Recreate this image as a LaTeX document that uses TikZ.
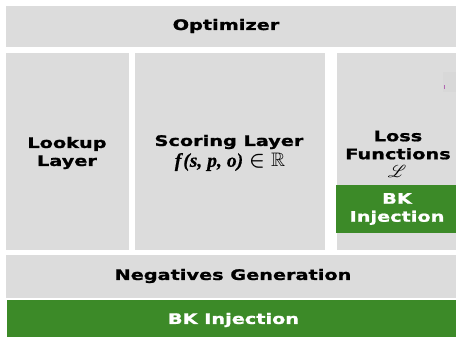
\documentclass[tikz,border=0pt]{standalone}
\usepackage{fontspec}
\usepackage{amsmath,amssymb,bm}
\usepackage{mathrsfs}
\setmainfont{DejaVu Sans}[BoldFont=DejaVu Sans Bold, BoldFeatures={FakeBold=1.2, FakeStretch=1.33}]
\newfontfamily\formulafont{Liberation Serif}[ItalicFont=Liberation Serif Bold Italic, ItalicFeatures={FakeBold=0.6}]
\definecolor{panel}{HTML}{DCDCDC}
\definecolor{bkgreen}{HTML}{3C8A28}
\tikzset{
  panelbox/.style={fill=panel, draw=none, inner sep=0pt, anchor=north west},
  greenbox/.style={fill=bkgreen, draw=none, inner sep=0pt, anchor=north west},
  label/.style={font=\rmfamily\bfseries\fontsize{14.5}{18}\selectfont, text=black, align=center, inner sep=0pt},
  bklabel/.style={label, text=white},
}
\begin{document}
\begin{tikzpicture}[x=1pt, y=-1pt]
  \useasboundingbox (0,0) rectangle (456,337);
  % top bar
  \node[panelbox, minimum width=450pt, minimum height=41pt] (opt) at (6,6) {};
  \node[label] (opttext) at (226,26) {Optimizer};
  % middle column of layers
  \node[panelbox, minimum width=123pt, minimum height=197pt] (lookup) at (6,53) {};
  \node[label] (lookuptext) at (67,153) {Lookup\\Layer};
  \node[panelbox, minimum width=190pt, minimum height=197pt] (scoring) at (135,53) {};
  \node[label] (scoringtext) at (229,142) {Scoring Layer};
  \node[inner sep=0pt] (formula) at (230,162)
    {\fontsize{19.5}{21}\selectfont{\formulafont\itshape f\kern2pt(s,\kern5pt p,\kern5pt o)}\kern6pt$\boldsymbol{\in}$\kern6pt$\mathbb{R}$};
  \node[panelbox, minimum width=119pt, minimum height=197pt] (loss) at (337,53) {};
  \fill[panel!98!black] (443,72) rectangle (456,92);
  \fill[violet!60] (443.5,85) rectangle (445,89);
  \node[label] (losstext) at (398,145) {Loss\\Functions};
  \node[inner sep=0pt] (lossym) at (397,171) {\fontsize{16}{18}\selectfont$\bm{\mathscr{L}}$};
  \node[greenbox, minimum width=120pt, minimum height=48pt] (lossbk) at (336,185) {};
  \node[bklabel] (lossbktext) at (397,209) {BK\\Injection};
  % bottom bars
  \node[panelbox, minimum width=450pt, minimum height=43pt] (neg) at (6,255) {};
  \node[label] (negtext) at (233,276) {Negatives Generation};
  \node[greenbox, minimum width=449pt, minimum height=37pt] (bk) at (7,300) {};
  \node[bklabel] (bktext) at (233.5,320) {BK Injection};
\end{tikzpicture}
\end{document}
